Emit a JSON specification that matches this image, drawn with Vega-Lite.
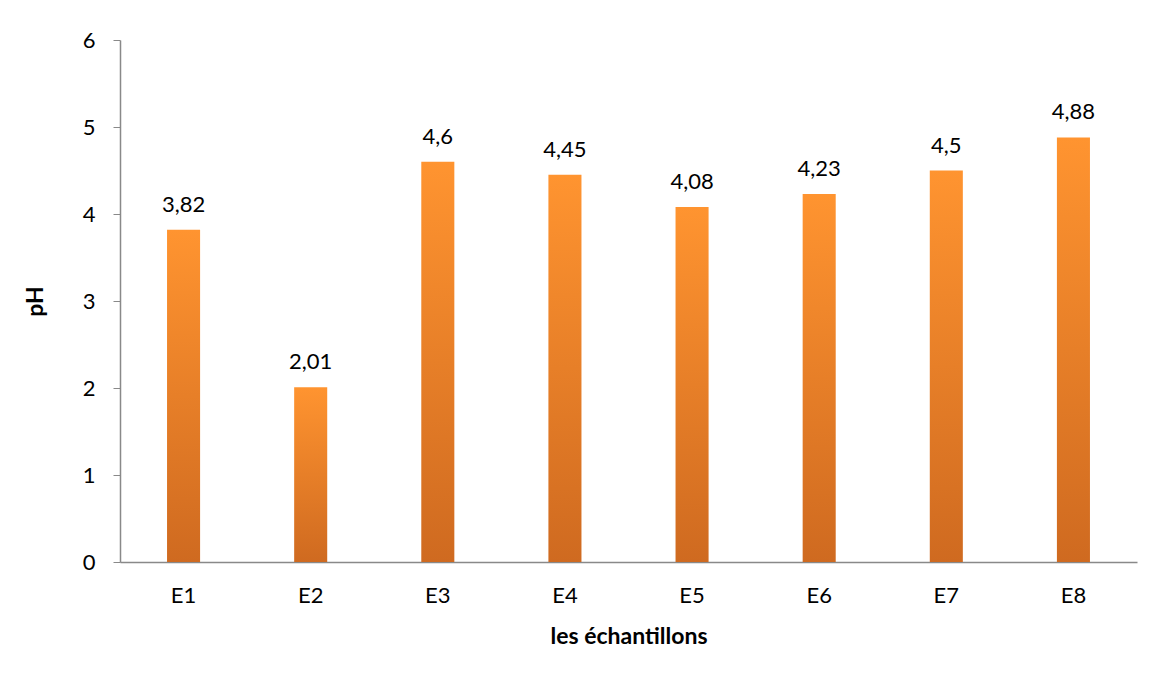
{
  "$schema": "https://vega.github.io/schema/vega-lite/v6.json",
  "width": 1017,
  "height": 522,
  "autosize": {"type": "none"},
  "padding": {"left": 120, "top": 40, "right": 20, "bottom": 116},
  "background": "white",
  "config": {
    "view": {"stroke": null},
    "font": "Lato",
    "locale": {"number": {"decimal": ",", "thousands": " ", "grouping": [3], "currency": ["", " €"]}}
  },
  "data": {
    "values": [
      {"echantillon": "E1", "pH": 3.82},
      {"echantillon": "E2", "pH": 2.01},
      {"echantillon": "E3", "pH": 4.6},
      {"echantillon": "E4", "pH": 4.45},
      {"echantillon": "E5", "pH": 4.08},
      {"echantillon": "E6", "pH": 4.23},
      {"echantillon": "E7", "pH": 4.5},
      {"echantillon": "E8", "pH": 4.88}
    ]
  },
  "encoding": {
    "x": {
      "field": "echantillon",
      "type": "nominal",
      "sort": null,
      "scale": {"paddingInner": 0, "paddingOuter": 0},
      "axis": {
        "title": "les échantillons",
        "titleFont": "Lato",
        "titleFontSize": 23,
        "titleFontWeight": "bold",
        "titleColor": "#000000",
        "titlePadding": 19,
        "labelAngle": 0,
        "labelFontSize": 22,
        "labelColor": "#000000",
        "labelPadding": 23,
        "ticks": false,
        "domainColor": "#898989",
        "domainWidth": 1.5
      }
    },
    "y": {
      "field": "pH",
      "type": "quantitative",
      "scale": {"domain": [0, 6], "nice": false},
      "axis": {
        "title": "pH",
        "titleFont": "Lato",
        "titleFontSize": 23,
        "titleFontWeight": "bold",
        "titleColor": "#000000",
        "titlePadding": 35,
        "values": [0, 1, 2, 3, 4, 5, 6],
        "format": "d",
        "grid": false,
        "labelFontSize": 22,
        "labelColor": "#000000",
        "labelPadding": 18,
        "tickSize": 7,
        "tickColor": "#898989",
        "domainColor": "#898989",
        "domainWidth": 1.5
      }
    }
  },
  "layer": [
    {
      "mark": {
        "type": "bar",
        "width": {"band": 0.26},
        "color": {
          "gradient": "linear",
          "x1": 0, "y1": 0, "x2": 0, "y2": 1,
          "stops": [
            {"offset": 0, "color": "#FF9430"},
            {"offset": 1, "color": "#CF6A20"}
          ]
        }
      }
    },
    {
      "mark": {"type": "text", "baseline": "alphabetic", "dy": -18, "fontSize": 22, "color": "#000000"},
      "encoding": {
        "text": {"field": "pH", "type": "quantitative", "format": "~r"}
      }
    }
  ]
}
